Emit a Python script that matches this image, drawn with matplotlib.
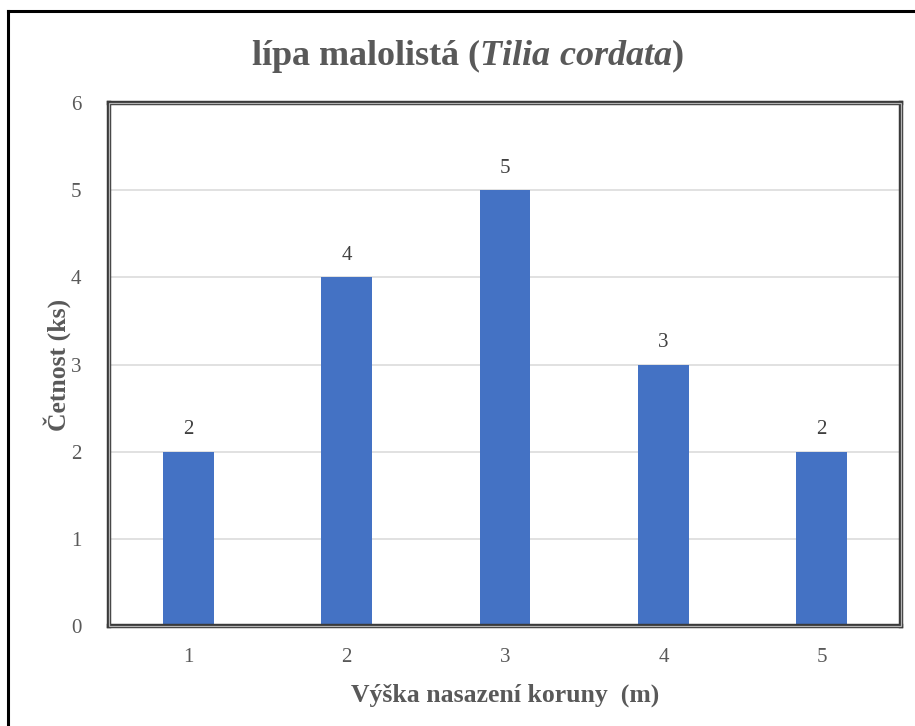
import matplotlib.pyplot as plt
from matplotlib.patches import Rectangle
from matplotlib.lines import Line2D

plt.rcParams['font.family'] = ['Liberation Serif', 'DejaVu Serif']
plt.rcParams['mathtext.fontset'] = 'custom'
plt.rcParams['mathtext.rm'] = 'Liberation Serif:bold'
plt.rcParams['mathtext.it'] = 'Liberation Serif:italic:bold'
plt.rcParams['mathtext.bf'] = 'Liberation Serif:bold'

# vyska nasazeni koruny (m) a pocet stromu
heights = ['1', '2', '3', '4', '5']
counts = [2, 4, 5, 3, 2]

bar_color = '#4472C4'
text_grey = '#595959'

fig = plt.figure(figsize=(9.15, 7.26), dpi=100)
ax = fig.add_axes([109 / 915, 100 / 726, 792 / 915, 523 / 726])

x = range(len(heights))
bars = ax.bar(x, counts, width=0.32, color=bar_color, zorder=2)

for xi, c in zip(x, counts):
    ax.annotate(str(c), (xi, c), xytext=(0, 9), textcoords='offset points',
                ha='center', va='bottom', fontsize=15, color='#404040')

ax.set_xlim(-0.5, len(heights) - 0.5)
ax.set_ylim(0, 6)
ax.set_yticks(range(0, 7))
ax.set_xticks(list(x))
ax.set_xticklabels(heights)
ax.tick_params(length=0, labelsize=15, labelcolor=text_grey)
ax.tick_params(axis='y', pad=20)
ax.tick_params(axis='x', pad=16)
ax.grid(axis='y', color='#d9d9d9', linewidth=1.1, zorder=1)
ax.set_axisbelow(True)

# dvojity ramecek kolem plochy grafu
for s in ax.spines.values():
    s.set_linewidth(3.2)
    s.set_color('#3a3a3a')
    s.set_zorder(3)
ax.add_patch(Rectangle((0, 0), 1, 1, transform=ax.transAxes, fill=False,
                       edgecolor='#b4b4b4', linewidth=0.9, clip_on=False, zorder=4))

ax.set_xlabel('Výška nasazení koruny  (m)', fontsize=18.5, fontweight='bold',
              color=text_grey, labelpad=12)
ax.set_ylabel('Četnost (ks)', fontsize=18.5, fontweight='bold',
              color=text_grey, labelpad=0)

fig.text(0.511, 1 - 65 / 726, r'lípa malolistá ($\mathit{Tilia\ cordata}$)',
         ha='center', va='baseline', fontsize=26, fontweight='bold', color=text_grey)

# okraj oblasti grafu
fig.add_artist(Line2D([8 / 915, 1], [1 - 11 / 726, 1 - 11 / 726], color='black', linewidth=2.2))
fig.add_artist(Line2D([8 / 915, 8 / 915], [0, 1 - 11 / 726], color='black', linewidth=2.2))

fig.savefig('out.png', dpi=100)
